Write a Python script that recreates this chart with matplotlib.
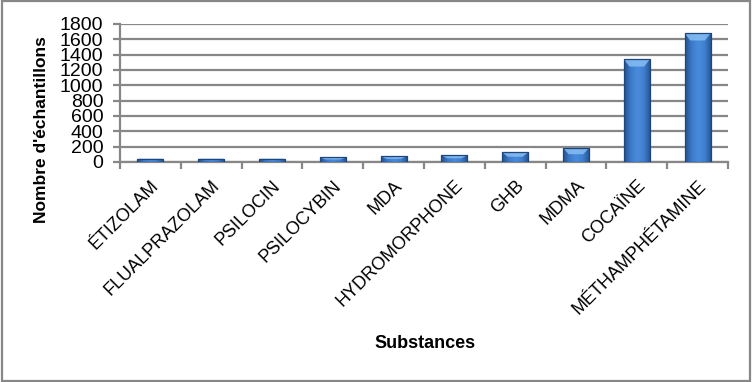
import matplotlib
matplotlib.use("Agg")
import matplotlib.pyplot as plt
from matplotlib.patches import Rectangle, Polygon
from matplotlib.colors import LinearSegmentedColormap
import numpy as np

categories = ["ÉTIZOLAM", "FLUALPRAZOLAM", "PSILOCIN", "PSILOCYBIN", "MDA",
              "HYDROMORPHONE", "GHB", "MDMA", "COCAÏNE", "MÉTHAMPHÉTAMINE"]
values = [45, 45, 45, 60, 75, 90, 125, 185, 1340, 1680]
yticks = [0, 200, 400, 600, 800, 1000, 1200, 1400, 1600, 1800]

plt.rcParams['font.family'] = ['Liberation Sans', 'DejaVu Sans']

fig = plt.figure(figsize=(7.52, 3.82), dpi=100)
ax = fig.add_axes([120/752, 1-162/382, (728-120)/752, (162-24)/382])

x = np.arange(len(categories))
bw = 0.43
bars = ax.bar(x, values, width=bw, facecolor='none', edgecolor="#1E4679", linewidth=0.9, zorder=5)

cmap = LinearSegmentedColormap.from_list("barg", ["#24528E", "#3C7BCB", "#4A8CDC", "#3E7ECE", "#24528E"])
grad = np.linspace(0, 1, 64).reshape(1, -1)
for rect, v in zip(bars.patches, values):
    x0 = rect.get_x(); w = rect.get_width()
    im = ax.imshow(grad, extent=[x0, x0 + w, 0, v], aspect='auto', cmap=cmap, zorder=3,
                   interpolation='bicubic')
    im.set_clip_path(rect)
    bh = min(95, 0.45 * v)
    inset = w * 0.22
    poly = Polygon([[x0, v], [x0 + w, v], [x0 + w - inset, v - bh], [x0 + inset, v - bh]],
                   closed=True, facecolor="#86BDF4", edgecolor='none', alpha=0.85, zorder=4)
    ax.add_patch(poly)

ax.set_ylim(0, 1800)
ax.set_xlim(-0.5, len(categories)-0.5)
ax.set_yticks(yticks)
ax.set_yticklabels([str(t) for t in yticks], fontsize=14)
ax.yaxis.grid(True, color="#878787", linewidth=1.6, zorder=0)
ax.set_axisbelow(True)

ax.set_xticks(np.arange(-0.5, len(categories), 1.0))
ax.set_xticklabels([])
ax.set_xticks(x, minor=True)
ax.set_xticklabels(categories, minor=True, rotation=45, ha='right', rotation_mode='anchor',
                   fontsize=13)
ax.tick_params(axis='x', which='minor', length=0, pad=11)
ax.tick_params(axis='x', which='major', length=5, width=1.6, color="#878787")
ax.tick_params(axis='y', length=5, width=1.6, color="#878787", pad=7)

for s in ['top', 'right']:
    ax.spines[s].set_visible(False)
ax.spines['left'].set_color("#878787")
ax.spines['left'].set_linewidth(1.6)
ax.spines['bottom'].set_color("#878787")
ax.spines['bottom'].set_linewidth(1.6)

fig.text(42/752, 1-130/382, "Nombre d'échantillons", rotation=90, ha='center', va='center',
         fontsize=12.5, fontweight='bold')
fig.text(425/752, 1-343/382, "Substances", ha='center', va='center',
         fontsize=13, fontweight='bold')

fig.patches.append(Rectangle((0.002, 0.003), 0.995, 0.994, transform=fig.transFigure,
                             fill=False, edgecolor="#878787", linewidth=1.6))

fig.savefig("out.png", dpi=100)
